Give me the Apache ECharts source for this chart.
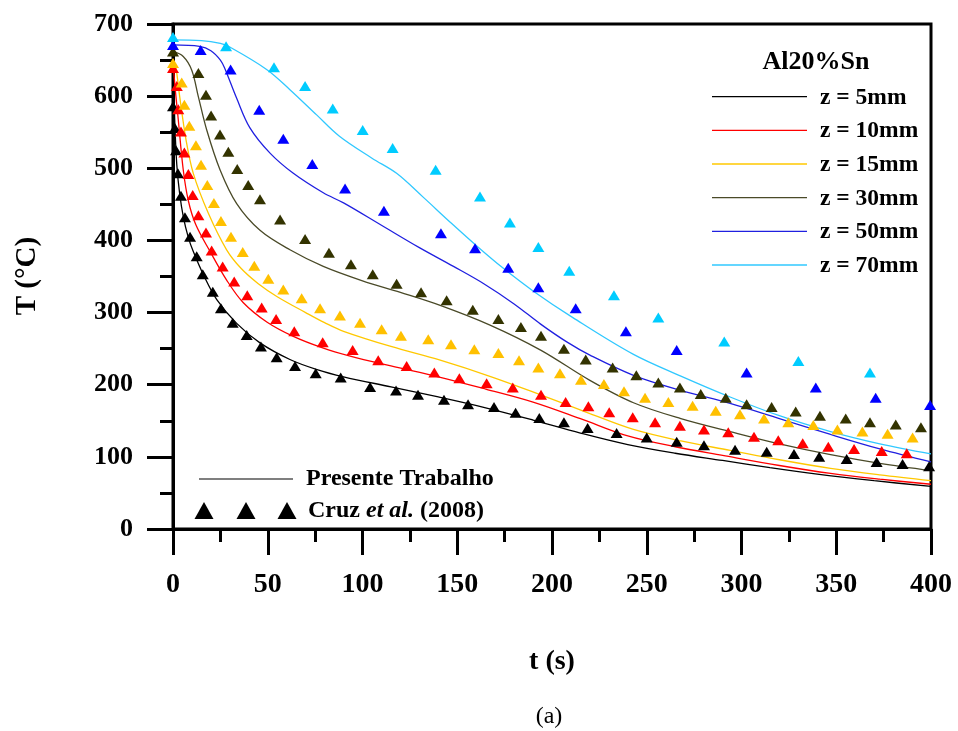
<!DOCTYPE html>
<html>
<head>
<meta charset="utf-8">
<script src="https://cdn.jsdelivr.net/npm/echarts@6/dist/echarts.min.js"></script>
<style>
  html, body { margin: 0; padding: 0; background: #fff; }
  #chart { width: 958px; height: 731px; }
</style>
</head>
<body>
<div id="chart"></div>
<script>
// Axis ticks
const xTicks = [0, 50, 100, 150, 200, 250, 300, 350, 400];
const yTicks = [0, 100, 200, 300, 400, 500, 600, 700];

// Series labels
const zLabels = ['z = 5mm', 'z = 10mm', 'z = 15mm', 'z = 30mm', 'z = 50mm', 'z = 70mm'];

// Cruz et al. (2008) measurements: [t (s), T (°C)]
const exp5 = [[0,586],[1,556],[1.6,525],[2.6,493],[4.2,462],[6.3,432],[9,405],[12.5,378],[15.7,353],[21,329],[25.3,306],[31.5,286],[38.9,269],[46.4,253],[54.7,238],[64.4,226],[75.3,216],[88.5,210],[104,197],[117.7,192],[129.3,186],[143,179],[155.7,173],[169.4,169],[180.8,161],[193.3,154],[206.3,148],[218.8,140],[234.1,133],[250,127],[265.8,121],[280.2,116],[296.6,110],[313.3,107],[327.7,104],[341,100],[355.5,97],[371.3,93],[385,90],[399,87]];
const exp10 = [[0,639],[2,614],[2.8,582],[4.2,551],[6,522],[8.1,492],[10.4,463],[13.4,435],[17.4,411],[20.4,386],[26.2,364],[32.3,343],[39.2,324],[46.8,307],[54.4,291],[64,274],[79,259],[94.8,248],[108.3,234],[123.3,226],[137.9,217],[151.1,209],[165.5,202],[179.3,196],[194.2,186],[207.2,176],[219.2,170],[230.2,162],[242.6,155],[254.4,148],[267.5,143],[280.2,138],[293,134],[306.6,128],[319.4,123],[332.3,119],[345.8,114],[359.4,111],[374,108],[387.2,105]];
const exp15 = [[0,646],[4.6,619],[6,588],[8.6,559],[12.1,532],[14.8,505],[18.1,477],[21.6,452],[25.3,427],[30.6,405],[36.8,384],[42.9,365],[50.3,347],[58.2,332],[67.9,320],[77.6,306],[88.1,296],[98.7,286],[110.1,277],[120.3,268],[134.7,263],[146.7,256],[159,249],[171.7,244],[182.6,234],[192.8,224],[204.2,216],[215.3,207],[227.4,201],[238,191],[249.1,182],[261.4,176],[274.2,171],[286.4,164],[299.2,159],[311.9,153],[324.7,148],[337.9,144],[350.6,138],[363.8,135],[377.1,132],[390.3,127]];
const exp30 = [[0,662],[13.4,632],[17.4,602],[20.1,573],[24.8,547],[29.2,523],[33.9,499],[39.7,477],[45.9,457],[56.5,429],[69.7,402],[82.3,383],[93.9,367],[105.4,353],[118,340],[130.9,328],[144.4,317],[158.2,304],[171.7,291],[183.6,280],[194.2,268],[206.3,250],[217.8,235],[232,224],[244.5,213],[256.1,203],[267.5,196],[278.5,187],[291.7,182],[302.7,173],[315.9,169],[328.6,163],[341.4,157],[355,153],[367.8,148],[381.4,145],[394.7,141]];
const exp50 = [[0,671],[14.6,664],[30.4,637],[45.5,581],[58.2,541],[73.5,506],[90.8,472],[111.3,441],[141.4,410],[159.4,389],[176.9,362],[192.8,335],[212.5,306],[239,274],[265.8,248],[302.7,217],[339.2,196],[370.8,182],[399.5,172]];
const exp70 = [[0,682],[28,669],[53.3,640],[69.7,614],[84.3,583],[100.1,553],[115.9,528],[138.6,498],[162,461],[177.8,425],[192.8,391],[209.1,358],[232.7,324],[256.1,293],[290.9,260],[330,233],[367.8,217]];

// Present work (model curves): [t (s), T (°C)]
const sim5 = [[0,655],[0.3,620],[1,560],[2,505],[3.5,465],[5.5,432],[8,405],[10.5,386],[16.3,351],[23.1,318],[33.6,285],[45.9,258],[61.7,235],[76,221],[90,211],[115,197],[140,183],[165,168],[190,151],[215,133],[240,117],[265,105],[290,95],[315,85],[340,76],[370,67],[400,59]];
const sim10 = [[0,650],[1,615],[2.8,567],[5.4,498],[8.1,455],[12,422],[19.5,385],[28.3,345],[37,314],[49.5,287],[63.5,267],[79,251],[93,240],[115,226],[140,211],[165,194],[190,176],[215,153],[240,129],[265,114],[290,102],[320,88],[347,77],[373,69],[400,62]];
const sim15 = [[0,650],[1.5,640],[3.5,600],[6.9,539],[10.7,493],[18.6,438],[28.3,387],[36,361],[45,340],[55,322],[70,300],[80,286],[90,274],[115,253],[141,234],[168,211],[194,186],[220,160],[243,138],[268,122],[294,109],[320,96],[347,84],[373,75],[400,67]];
const sim30 = [[0,662],[5.4,655],[9.9,636],[13.4,599],[17.8,553],[24.8,498],[33.6,451],[45.9,414],[61.7,387],[79.3,364],[100,344],[120,328],[141,310],[167,283],[194,248],[220,206],[243,175],[268,153],[294,135],[320,118],[347,103],[373,91],[400,81]];
const sim50 = [[0,671],[14,669],[20,663],[25,650],[27.4,638],[33.6,597],[40.6,556],[51.2,521],[63.5,493],[79.3,466],[90,452],[110,421],[130,390],[148,364],[164,340],[180,312],[194,284],[208,259],[220,241],[243,213],[268,192],[294,174],[320,153],[347,131],[373,111],[400,93]];
const sim70 = [[0,678],[15,677],[25,673],[30,668],[49.4,637],[61.7,609],[75.8,574],[88,544],[105,514],[118,493],[132,460],[146,426],[160,393],[174,362],[190,330],[211,293],[243,242],[268,212],[294,183],[320,157],[347,135],[373,118],[400,104]];

const expSets = [exp5, exp10, exp15, exp30, exp50, exp70];
const simSets = [sim5, sim10, sim15, sim30, sim50, sim70];
const markerColors = ['#000000', '#ff0000', '#ffc000', '#333300', '#0000ff', '#00ccff'];
const lineColors = ['#000000', '#ff0000', '#ffc800', '#4a4a28', '#2020e0', '#30c8ff'];

const FONT = '"Liberation Serif", "Times New Roman", serif';

const chart = echarts.init(document.getElementById('chart'), null, { renderer: 'canvas' });

const series = [];
simSets.forEach((d, i) => {
  series.push({
    name: zLabels[i],
    type: 'line',
    data: d,
    showSymbol: false,
    symbol: 'none',
    smooth: 0.35,
    lineStyle: { color: lineColors[i], width: 1.3 },
    z: 2,
    silent: true
  });
});
expSets.forEach((d, i) => {
  series.push({
    name: zLabels[i] + ' exp',
    type: 'scatter',
    data: d,
    symbol: 'triangle',
    symbolSize: [12, 10],
    itemStyle: { color: markerColors[i], opacity: 1 },
    z: 3,
    silent: true
  });
});

// Legend graphics (top right: model curves; bottom left: line / symbol key)
const legendYs = [96.7, 130.3, 164, 197.7, 231.3, 265];
const graphics = [];
graphics.push({
  type: 'text', x: 816, y: 62,
  style: { text: 'Al20%Sn', font: 'bold 26px ' + FONT, fill: '#000',
           textAlign: 'center', textVerticalAlign: 'middle', align: 'center', verticalAlign: 'middle' }
});
zLabels.forEach((lab, i) => {
  graphics.push({
    type: 'line',
    shape: { x1: 712, y1: legendYs[i], x2: 807, y2: legendYs[i] },
    style: { stroke: lineColors[i], lineWidth: 1.3 }
  });
  graphics.push({
    type: 'text', x: 820, y: legendYs[i] + 1,
    style: { text: lab, font: 'bold 23.5px ' + FONT, fill: '#000',
             textAlign: 'left', textVerticalAlign: 'middle', align: 'left', verticalAlign: 'middle' }
  });
});
graphics.push({
  type: 'line',
  shape: { x1: 199, y1: 479, x2: 293, y2: 479 },
  style: { stroke: '#555', lineWidth: 1.5 }
});
graphics.push({
  type: 'text', x: 306, y: 479,
  style: { text: 'Presente Trabalho', font: 'bold 24px ' + FONT, fill: '#000',
           textAlign: 'left', textVerticalAlign: 'middle', align: 'left', verticalAlign: 'middle' }
});
[204, 246, 287].forEach(cx => {
  graphics.push({
    type: 'polygon',
    shape: { points: [[cx - 9.5, 519], [cx + 9.5, 519], [cx, 502]] },
    style: { fill: '#000' }
  });
});
graphics.push({
  type: 'text', x: 308, y: 511,
  style: {
    text: '{n|Cruz }{i|et al.}{n| (2008)}',
    rich: {
      n: { fontFamily: FONT, fontWeight: 'bold', fontSize: 24, fill: '#000', color: '#000' },
      i: { fontFamily: FONT, fontWeight: 'bold', fontStyle: 'italic', fontSize: 24, fill: '#000', color: '#000' }
    },
    textAlign: 'left', textVerticalAlign: 'middle', align: 'left', verticalAlign: 'middle'
  }
});
// Axis titles and panel tag
graphics.push({
  type: 'text', x: 552, y: 662,
  style: { text: 't (s)', font: 'bold 28px ' + FONT, fill: '#000',
           textAlign: 'center', textVerticalAlign: 'middle', align: 'center', verticalAlign: 'middle' }
});
graphics.push({
  type: 'text', x: 28, y: 276, rotation: Math.PI / 2,
  style: { text: 'T (°C)', font: 'bold 29px ' + FONT, fill: '#000',
           textAlign: 'center', textVerticalAlign: 'middle', align: 'center', verticalAlign: 'middle' }
});
graphics.push({
  type: 'text', x: 549, y: 717,
  style: { text: '(a)', font: '24px ' + FONT, fill: '#000',
           textAlign: 'center', textVerticalAlign: 'middle', align: 'center', verticalAlign: 'middle' }
});

const axisCommon = {
  type: 'value',
  axisLine: { show: true, onZero: false, lineStyle: { color: '#000', width: 3 } },
  axisTick: { show: true, inside: false, length: 26, lineStyle: { color: '#000', width: 3 } },
  minorTick: { show: true, splitNumber: 2, length: 13, lineStyle: { color: '#000', width: 3 } },
  splitLine: { show: false },
  minorSplitLine: { show: false }
};

chart.setOption({
  animation: false,
  backgroundColor: '#fff',
  grid: { left: 173, right: 27, top: 24, bottom: 202, show: true,
          borderColor: '#000', borderWidth: 3, backgroundColor: 'transparent' },
  xAxis: Object.assign({}, axisCommon, {
    min: xTicks[0], max: xTicks[xTicks.length - 1], interval: 50,
    axisLabel: { margin: 42, color: '#000', fontFamily: FONT, fontWeight: 'bold', fontSize: 28,
                 showMinLabel: true, showMaxLabel: true }
  }),
  yAxis: Object.assign({}, axisCommon, {
    min: yTicks[0], max: yTicks[yTicks.length - 1], interval: 100,
    axisLabel: { margin: 40, color: '#000', fontFamily: FONT, fontWeight: 'bold', fontSize: 26,
                 showMinLabel: true, showMaxLabel: true }
  }),
  series: series,
  graphic: { elements: graphics }
});
</script>
</body>
</html>
